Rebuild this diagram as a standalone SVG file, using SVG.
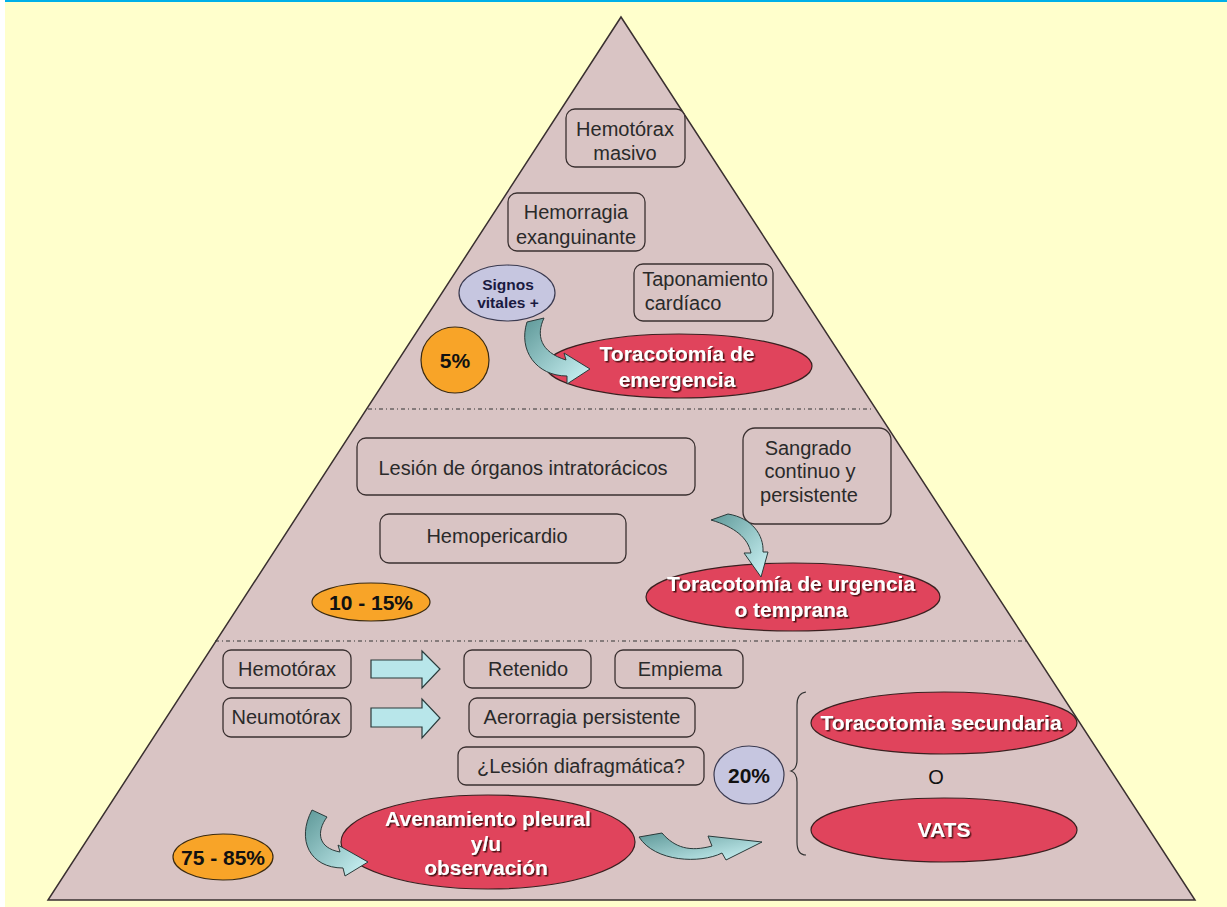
<svg xmlns="http://www.w3.org/2000/svg" width="1227" height="907" viewBox="0 0 1227 907">
<style>
.box{fill:#d9c4c4;stroke:#3a3030;stroke-width:1.3}
.t{font-family:"Liberation Sans",Arial,sans-serif;font-size:20px;fill:#2a2a2a;text-anchor:middle}
.w{font-family:"Liberation Sans",Arial,sans-serif;font-size:21px;font-weight:bold;fill:#ffffff;text-anchor:middle;filter:url(#sh)}
.p{font-family:"Liberation Sans",Arial,sans-serif;font-size:21px;font-weight:bold;fill:#111;text-anchor:middle}
.s{font-family:"Liberation Sans",Arial,sans-serif;font-size:15.5px;font-weight:bold;fill:#1a1a40;text-anchor:middle}
.red{fill:#e0445c;stroke:#3a2020;stroke-width:1.2}
.org{fill:#f8a428;stroke:#3a2a10;stroke-width:1.2}
.lav{fill:#c6c6e0;stroke:#3a3a50;stroke-width:1.2}
.cur{fill:url(#cg);stroke:#2a3a3a;stroke-width:1}
.blk{fill:#b8e6ea;stroke:#2a3a3a;stroke-width:1.2}
.sep{stroke:#333;stroke-width:1.2;stroke-dasharray:4 3 1 3;fill:none}
</style>
<defs>
<linearGradient id="cg" x1="0" y1="0" x2="1" y2="1">
<stop offset="0" stop-color="#5e9898"/>
<stop offset="1" stop-color="#cff6f8"/>
</linearGradient>
<filter id="sh" x="-10%" y="-30%" width="120%" height="160%">
<feDropShadow dx="1.5" dy="1.5" stdDeviation="0.6" flood-color="#3a1010" flood-opacity="0.9"/>
</filter>
</defs>
<rect x="0" y="0" width="1227" height="907" fill="#ffffff"/>
<rect x="5" y="0" width="1222" height="907" fill="#ffffcc"/>
<rect x="5" y="0" width="1222" height="2" fill="#00b0e8"/>
<polygon points="621,17 1195,900 48,900" fill="#d9c4c4" stroke="#3a3030" stroke-width="1.5"/>
<line class="sep" x1="368" y1="409" x2="874" y2="409"/>
<line class="sep" x1="215" y1="641" x2="1027" y2="641"/>

<g id="hemotorax-masivo"><rect class="box" x="566" y="109" width="119" height="58" rx="9"/><text class="t" x="625" y="136">Hemotórax</text><text class="t" x="625" y="160">masivo</text></g>
<g id="hemorragia"><rect class="box" x="508" y="193" width="137" height="58" rx="9"/><text class="t" x="576" y="219">Hemorragia</text><text class="t" x="576" y="244">exanguinante</text></g>
<g id="taponamiento"><rect class="box" x="634" y="264" width="139" height="57" rx="9"/><text class="t" x="705" y="286">Taponamiento</text><text class="t" x="683" y="310">cardíaco</text></g>
<g id="signos"><ellipse class="lav" cx="507" cy="293" rx="48" ry="28"/><text class="s" x="508" y="290">Signos</text><text class="s" x="508" y="308">vitales +</text></g>
<g id="p5"><ellipse class="org" cx="455" cy="360" rx="34" ry="33"/><text class="p" x="455" y="368">5%</text></g>
<g id="toracotomia-emergencia"><ellipse class="red" cx="679" cy="366" rx="133" ry="32"/><text class="w" x="677" y="361">Toracotomía de</text><text class="w" x="677" y="387">emergencia</text></g>

<g id="lesion-organos"><rect class="box" x="357" y="438" width="338" height="57" rx="9"/><text class="t" x="523" y="475">Lesión de órganos intratorácicos</text></g>
<g id="hemopericardio"><rect class="box" x="380" y="514" width="246" height="49" rx="9"/><text class="t" x="497" y="543">Hemopericardio</text></g>
<g id="sangrado"><rect class="box" x="743" y="428" width="148" height="96" rx="12"/><text class="t" x="808" y="455">Sangrado</text><text class="t" x="810" y="478">continuo  y</text><text class="t" x="809" y="502">persistente</text></g>
<g id="p10"><ellipse class="org" cx="371" cy="602" rx="59" ry="19"/><text class="p" x="371" y="610">10 - 15%</text></g>
<g id="toracotomia-urgencia"><ellipse class="red" cx="793" cy="597" rx="147" ry="34"/><text class="w" x="791" y="591">Toracotomía de urgencia</text><text class="w" x="791" y="617">o temprana</text></g>

<g id="hemotorax"><rect class="box" x="223" y="650" width="128" height="38" rx="8"/><text class="t" x="287" y="676">Hemotórax</text></g>
<g id="neumotorax"><rect class="box" x="223" y="698" width="128" height="39" rx="8"/><text class="t" x="286" y="724">Neumotórax</text></g>
<g id="retenido"><rect class="box" x="464" y="650" width="127" height="38" rx="8"/><text class="t" x="528" y="676">Retenido</text></g>
<g id="empiema"><rect class="box" x="615" y="650" width="128" height="38" rx="8"/><text class="t" x="680" y="676">Empiema</text></g>
<g id="aerorragia"><rect class="box" x="469" y="698" width="226" height="39" rx="8"/><text class="t" x="582" y="724">Aerorragia persistente</text></g>
<g id="lesion-diafragmatica"><rect class="box" x="458" y="747" width="246" height="38" rx="8"/><text class="t" x="581" y="773">¿Lesión diafragmática?</text></g>
<g id="p20"><ellipse class="lav" cx="749" cy="775" rx="35" ry="29"/><text class="p" x="749" y="783">20%</text></g>
<g id="toracotomia-secundaria"><ellipse class="red" cx="944" cy="723" rx="133" ry="31"/><text class="w" x="941" y="730">Toracotomia secundaria</text></g>
<g id="o"><text x="936" y="784" font-family="Liberation Sans,Arial,sans-serif" font-size="20" fill="#111" text-anchor="middle">O</text></g>
<g id="vats"><ellipse class="red" cx="944" cy="830" rx="133" ry="32"/><text class="w" x="944" y="837">VATS</text></g>
<g id="avenamiento"><ellipse class="red" cx="488" cy="842" rx="147" ry="47"/><text class="w" x="488" y="826">Avenamiento pleural</text><text class="w" x="486" y="851">y/u</text><text class="w" x="486" y="875">observación</text></g>
<g id="p75"><ellipse class="org" cx="223" cy="857" rx="50" ry="23"/><text class="p" x="223" y="865">75 - 85%</text></g>

<g id="connectors">
<path class="cur" d="M527,322 L544,318 C536,335 540,352 566,360 L564,353 L590,369 L567,384 L567,376 C536,376 518,350 527,322 Z"/>
<path class="cur" d="M711,520 L728,514 C752,518 764,535 763,552 L768,552 L761,577 L744,553 L751,553 C748,538 735,527 711,520 Z"/>
<path class="cur" d="M312,810 L327,817 C316,832 318,848 340,852 L338,845 L368,862 L345,876 L343,868 C310,868 296,840 312,810 Z"/>
<path class="cur" d="M639,837 L662,833 C675,848 690,852 712,846 L708,836 L762,842 L726,860 L722,853 C700,864 655,862 639,837 Z"/>
<path class="blk" d="M371,660 L422,660 L422,651 L440,669 L422,688 L422,678 L371,678 Z"/>
<path class="blk" d="M371,708 L422,708 L422,699 L440,718 L422,738 L422,727 L371,727 Z"/>
<path d="M806,692 Q797,693 797,705 L797,760 Q797,769 791,771 Q797,773 797,782 L797,842 Q797,855 806,855" fill="none" stroke="#333" stroke-width="1.2"/>
</g>
</svg>
